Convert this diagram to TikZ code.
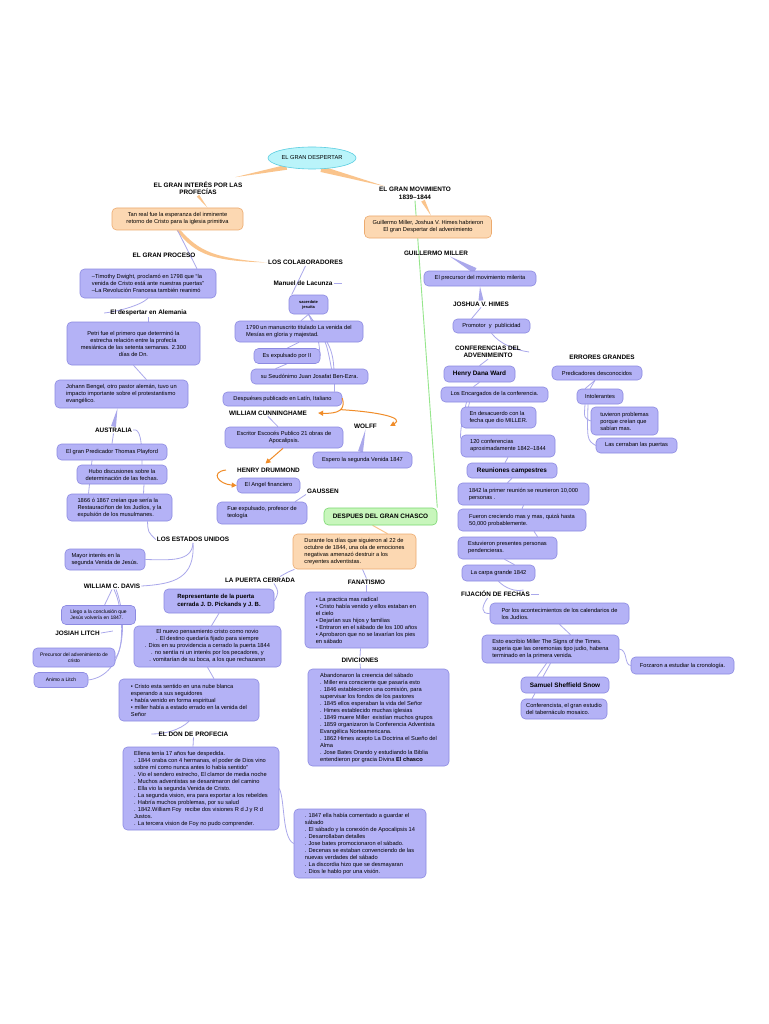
\documentclass[tikz,border=0pt]{standalone}
\usepackage{fontspec}
\setmainfont{Liberation Sans}
\usetikzlibrary{calc,arrows.meta,shapes.geometric}
\definecolor{pF}{RGB}{180,178,246}
\definecolor{pB}{RGB}{140,138,225}
\definecolor{oF}{RGB}{252,216,178}
\definecolor{oB}{RGB}{236,170,110}
\definecolor{gF}{RGB}{200,246,188}
\definecolor{gB}{RGB}{120,215,110}
\definecolor{cF}{RGB}{186,244,250}
\definecolor{cB}{RGB}{90,205,225}
\definecolor{lP}{RGB}{170,168,235}
\definecolor{lO}{RGB}{250,196,140}
\definecolor{aO}{RGB}{240,140,40}
\definecolor{lG}{RGB}{150,230,140}
\newcommand\fsn{\fontsize{5.7}{7}\selectfont}
\newcommand\fss{\fontsize{5}{6.2}\selectfont}
\newcommand\fsb{\fontsize{6.4}{7.4}\selectfont\bfseries}
\newcommand\fbb{\fontsize{6.4}{7.4}\selectfont\bfseries}
\newcommand\taper[4][lP]{\fill[#1] ($(#2)!#4!90:(#3)$) -- ($(#2)!#4!-90:(#3)$) -- (#3) -- cycle;}
\pgfdeclarelayer{bg}\pgfdeclarelayer{links}\pgfsetlayers{bg,links,main}
\tikzset{
 box/.style={draw=pB, fill=pF, rounded corners=4.5pt, line width=0.6pt, inner sep=1.5pt, font=\fsn},
 obox/.style={box, draw=oB, fill=oF},
 gbox/.style={box, draw=gB, fill=gF, font=\fbb},
 lab/.style={font=\fsb, align=center, inner sep=1pt},
 wh/.style 2 args={minimum width=#1pt, minimum height=#2pt},
 pl/.style={draw=lP, line width=0.8pt},
 ol/.style={draw=lO, line width=1pt},
 gl/.style={draw=lG, line width=0.9pt},
 oa/.style={draw=aO, line width=1pt, -{Triangle[length=5pt,width=5pt]}},
}
\begin{document}
\begin{tikzpicture}[x=1pt,y=-1pt]
\begin{pgfonlayer}{bg}
\fill[white] (0,0) rectangle (768,1024);
\end{pgfonlayer}
\useasboundingbox (0,0) rectangle (768,1024);

% ---------- top ----------
\node[ellipse, draw=cB, fill=cF, line width=0.6pt, wh={88}{22}, inner sep=0pt, font=\fsn] (despertar) at (312,158) {EL GRAN DESPERTAR};
\node[lab] (interes) at (198,188) {EL GRAN INTERÉS POR LAS\\PROFECÍAS};
\node[obox, wh={131}{22}, align=center] (tanreal) at (177.5,219) {Tan real fue la esperanza del inminente\\retorno de Cristo para la iglesia primitiva};
\node[lab] (proceso) at (164,255) {EL GRAN PROCESO};
\node[lab] (colab) at (305.5,262.5) {LOS COLABORADORES};

% ---------- left column ----------
\node[box, wh={136}{29}, align=left] (timothy) at (148,283.5) {–Timothy Dwight, proclamó en 1798 que “la\\venida de Cristo está ante nuestras puertas”\\–La Revolución Francesa también reanimó};
\node[lab] (alemania) at (148.5,313) {El despertar en Alemania};
\node[box, wh={133}{43}, align=center] (petri) at (133.5,343.5) {Petri fue el primero que determinó la\\estrecha relación entre la profecía\\mesiánica de las setenta semanas. 2.300\\días de Dn.};
\node[box, wh={133}{28}, align=left] (johann) at (121.5,394) {Johann Bengel, otro pastor alemán, tuvo un\\impacto importante sobre el protestantismo\\evangélico.};
\node[lab] (australia) at (113.5,430) {AUSTRALIA};
\node[box, wh={110}{16}] (playford) at (112,452) {El gran Predicador Thomas Playford};
\node[box, wh={90}{19}, align=center] (hubo) at (122,474.5) {Hubo discusiones sobre la\\determinación de las fechas.};
\node[box, wh={105}{27}, align=left] (r1866) at (119.5,507.5) {1866 ó 1867 creían que sería la\\Restauraciñon de los Judíos, y la\\expulsión de los musulmanes.};
\node[lab] (eeuu) at (193,539.5) {LOS ESTADOS UNIDOS};
\node[box, wh={80}{21}, align=left] (mayor) at (105,559.5) {Mayor interés en la\\segunda Venida de Jesús.};
\node[lab] (davis) at (112,586) {WILLIAM C. DAVIS};
\node[box, wh={74}{19}, align=left, font=\fss] (llego) at (98.5,615) {Llego a la conclusión que\\Jesús volvería en 1847.};
\node[lab] (litch) at (77.5,633) {JOSIAH LITCH};
\node[box, wh={82}{19}, align=center, font=\fss] (precursorL) at (74,657.5) {Precursor del advenimiento de\\cristo};
\node[box, wh={54}{15}, font=\fss] (animo) at (61,680) {Animo a Litch};

% ---------- Lacunza column ----------
\node[lab] (lacunza) at (303,283) {Manuel de Lacunza};
\node[box, wh={39}{19}, align=center, font=\fontsize{4}{5}\selectfont\bfseries] (sacerdote) at (308.5,304.5) {sacerdote\\jesuita};
\node[box, wh={128}{21}, align=left] (m1790) at (299,331.5) {1790 un manuscrito titulado La venida del\\Mesías en gloria y majestad.};
\node[box, wh={66}{15}] (expulsado) at (287,356) {Es expulsado por II};
\node[box, wh={117}{15}] (seudonimo) at (309.5,376.5) {su Seudónimo Juan Josafat Ben-Ezra.};
\node[box, wh={119}{14}] (despuespub) at (282.5,399) {Despuéses publicado en Latín, Italiano};
\node[lab] (cunning) at (268,413) {WILLIAM CUNNINGHAME};
\node[lab] (wolff) at (365.5,426) {WOLFF};
\node[box, wh={118}{21}, align=center] (escritor) at (284,437.5) {Escritor Escocés Publico 21 obras de\\Apocalipsis.};
\node[box, wh={99}{16}] (espero) at (362.5,460) {Espero la segunda Venida 1847};
\node[lab] (drummond) at (268.5,470) {HENRY DRUMMOND};
\node[box, wh={63}{15}] (angel) at (268.5,485.5) {El Angel financiero};
\node[lab] (gaussen) at (323,491) {GAUSSEN};
\node[box, wh={90}{22}, align=left] (fueexp) at (262,513) {Fue expulsado, profesor de\\teología};
\node[gbox, wh={113}{17}] (despchasco) at (380.5,516.5) {DESPUES DEL GRAN CHASCO};

% ---------- right column ----------
\node[lab] (movimiento) at (415,193.5) {EL GRAN MOVIMIENTO\\1839–1844};
\node[obox, wh={127}{22}, align=center] (guillermoBox) at (428,227) {Guillermo Miller, Joshua V. Himes habrieron\\El gran Despertar del advenimiento};
\node[lab] (guillermo) at (436,253) {GUILLERMO MILLER};
\node[box, wh={112}{15}] (precursorM) at (480,278.5) {El precursor del movimiento milerita};
\node[lab] (joshua) at (481,304) {JOSHUA V. HIMES};
\node[box, wh={77}{14}] (promotor) at (491.5,326) {Promotor\ \ y\ \ publicidad};
\node[lab] (conferencias) at (488,352) {CONFERENCIAS DEL\\ADVENIMEINTO};
\node[lab] (errores) at (602,357) {ERRORES GRANDES};
\node[box, wh={71}{16}, font=\fbb] (henry) at (479.5,374) {Henry Dana Ward};
\node[box, wh={107}{15}] (encargados) at (494.5,394.5) {Los Encargados de la conferencia.};
\node[box, wh={75}{21}, align=left] (desacuerdo) at (498.5,417.5) {En desacuerdo con la\\fecha que dio MILLER.};
\node[box, wh={94}{22}, align=left] (conf120) at (508,446) {120 conferencias\\aproximadamente 1842–1844};
\node[box, wh={90}{14}] (predicadores) at (597,373) {Predicadores desconocidos};
\node[box, wh={46}{15}] (intolerantes) at (600,396.5) {Intolerantes};
\node[box, wh={67}{28}, align=left] (tuvieron) at (624.5,421) {tuvieron problemas\\porque creían que\\sabían mas.};
\node[box, wh={81}{15}] (cerraban) at (636.5,445.5) {Las cerraban las puertas};
\node[box, wh={90}{15}, font=\fbb] (reuniones) at (512,470.5) {Reuniones campestres};
\node[box, wh={131}{22}, align=left] (r1842) at (523.5,494) {1842 la primer reunión se reunieron 10,000\\personas .};
\node[box, wh={128}{22}, align=left] (fueron) at (522,520) {Fueron creciendo mas y mas, quizá hasta\\50,000 probablemente.};
\node[box, wh={99}{22}, align=left] (estuvieron) at (507.5,548) {Estuvieron presentes personas\\pendencieras.};
\node[box, wh={73}{16}] (carpa) at (498.5,573) {La carpa grande 1842};
\node[lab] (fijacion) at (495.5,594) {FIJACIÓN DE FECHAS};
\node[box, wh={139}{21}, align=left] (porlos) at (559.5,613.5) {Por los acontecimientos de los calendarios de\\los Judíos.};
\node[box, wh={137}{28}, align=left] (esto) at (550.5,649) {Esto escribio Miller The Signs of the Times.\\sugeria que las ceremonias tipo judio, habena\\terminado en la primera venida.};
\node[box, wh={103}{17}] (forzaron) at (682.5,665.5) {Forzaron a estudiar la cronología.};
\node[box, wh={88}{16}, font=\fbb] (samuel) at (565,685) {Samuel Sheffield Snow};
\node[box, wh={86}{20}, align=left] (conferencista) at (564,709) {Conferencista, el gran estudio\\del tabernáculo mosaico.};

% ---------- centre bottom ----------
\node[obox, wh={123}{35}, align=left] (durante) at (354.5,551.5) {Durante los días que siguieron al 22 de\\octubre de 1844, una ola de emociones\\negativas amenazó destruir a los\\creyentes adventistas.};
\node[lab] (puerta) at (260,580) {LA PUERTA CERRADA};
\node[lab] (fanatismo) at (366.5,582) {FANATISMO};
\node[box, wh={110}{24}, align=left, font=\fontsize{6}{7.4}\selectfont\bfseries] (representante) at (219,601) {Representante de la puerta\\cerrada J. D. Pickands y J. B.};
\node[box, wh={123}{56}, align=left] (fanbox) at (366.5,620) {• La practica mas radical\\• Cristo había venido y ellos estaban en\\el cielo\\• Dejarían sus hijos y familias\\• Entraron en el sábado de los 100 años\\• Aprobaron que no se lavarían los pies\\en sábado};
\node[box, wh={147}{41}, align=center] (nuevo) at (207.5,646.5) {El nuevo pensamiento cristo como novio\\. El destino quedaría fijado para siempre\\. Dios en su providencia a cerrado la puerta 1844\\. no sentía ni un interés por los pecadores, y\\. vomitarían de su boca, a los que rechazaron};
\node[lab] (diviciones) at (360,660) {DIVICIONES};
\node[box, wh={141}{97}, align=left] (abandonaron) at (378.5,717.5) {Abandonaron la creencia del sábado\\. Miller era consciente que pasaría esto\\. 1846 establecieron una comisión, para\\supervisar los fondos de los pastores\\. 1845 ellos esperaban la vida del Señor\\. Himes establecido muchas iglesias\\. 1849 muere Miller\ \ existían muchos grupos\\. 1859 organizaron la Conferencia Adventista\\Evangélica Norteamericana.\\. 1862 Himes acepto La Doctrina el Sueño del\\Alma\\. Jose Bates Orando y estudiando la Biblia\\entendieron por gracia Divina \textbf{El chasco}};
\node[box, wh={140}{42}, align=left] (cristo) at (189,700) {• Cristo esta sentido en una nube blanca\\esperando a sus seguidores\\• había venido en forma espiritual\\• miller había a estado errado en la venida del\\Señor};
\node[lab] (don) at (193.5,734) {EL DON DE PROFECIA};
\node[box, wh={156}{83}, align=left] (ellena) at (201,788.5) {Ellena tenía 17 años fue despedida.\\. 1844 oraba con 4 hermanas, el poder de Dios vino\\sobre mí como nunca antes lo había sentido”\\. Vio el sendero estrecho, El clamor de media noche\\. Muchos adventistas se desanimaron del camino\\. Ella vio la segunda Venida de Cristo.\\. La segunda vision, era para exportar a los rebeldes\\. Habría muchos problemas, por su salud\\. 1842.William Foy\ \ recibe dos visiones R d J y R d\\Justos.\\. La tercera vision de Foy no pudo comprender.};
\node[box, wh={132}{69}, align=left] (s1847) at (360,843.5) {. 1847 ella había comentado a guardar el\\sábado\\. El sábado y la conexión de Apocalipsis 14\\. Desarrollaban detalles\\. Jose bates promocionaron el sábado.\\. Decenas se estaban convenciendo de las\\nuevas verdades del sábado\\. La discordia hizo que se desmayaran\\. Dios le hablo por una visión.};

% ---------- connectors ----------
\begin{pgfonlayer}{links}
% orange top
\coordinate (o1a) at (despertar.200);
\coordinate (o1b) at ([xshift=37pt,yshift=3pt]interes.north);
\taper[lO]{o1a}{o1b}{2.5pt}
\coordinate (o2a) at (despertar.-50);
\coordinate (o2b) at ([xshift=-30pt]movimiento.north);
\taper[lO]{o2a}{o2b}{3pt}
\coordinate (o3b) at ([xshift=30pt]tanreal.north);
\taper[lO]{interes.south}{o3b}{1.5pt}
\fill[lO] ([xshift=3pt]tanreal.south) .. controls (200,252) and (215,258) .. (colab.west) .. controls (215,261) and (196,256) .. ([xshift=-1pt]tanreal.south) -- cycle;
% left column
\draw[pl] (tanreal.south) -- ([xshift=49pt]timothy.north);
\draw[pl] (timothy.south) .. controls (140,306) and (115,312) .. ([xshift=-5pt]alemania.west);
\draw[pl] (alemania.south) -- ([xshift=15pt]petri.north);
\draw[pl] (petri.south) -- ([xshift=25pt]johann.north);
\coordinate (jt) at ([xshift=-4pt]johann.south);
\taper{australia.north}{jt}{2.5pt}
\draw[pl] (australia.south) -- (playford.north);
\draw[pl] (australia.east) .. controls (140,428) and (142,440) .. ([xshift=20pt]hubo.north);
\draw[pl] ([xshift=-20pt]playford.south) -- ([xshift=-31pt]r1866.north);
\draw[pl] ([xshift=22pt]hubo.south) -- ([xshift=24pt]r1866.north);
\draw[pl] ([xshift=28pt]r1866.south) .. controls (148,532) .. (eeuu.west);
\draw[pl] (eeuu.south) .. controls (192,562) and (170,560) .. (mayor.east);
\draw[pl] (eeuu.south) .. controls (195,578) and (175,584) .. (davis.east);
\draw[pl] (davis.south) -- ([xshift=6pt]llego.north);
\draw[pl] ([xshift=2pt]davis.south) .. controls (124,610) and (124,650) .. (precursorL.east);
\draw[pl] ([xshift=4pt]davis.south) .. controls (128,620) and (126,675) .. (animo.east);
\coordinate (litchend) at ([xshift=12pt,yshift=2pt]litch.east);
\draw[pl] (litch.east) -- (litchend);
% Lacunza
\draw[pl] (colab.south) -- ([xshift=3pt]sacerdote.north west);
\coordinate (lacend) at ([xshift=8pt]lacunza.east);
\draw[pl] (lacunza.east) -- (lacend);
\draw[pl] (sacerdote.south) -- ([xshift=2pt]m1790.north);
\draw[pl] (sacerdote.south) .. controls (318,335) .. (expulsado.east);
\draw[pl] (sacerdote.south) .. controls (326,340) .. ([xshift=22pt]seudonimo.north);
\draw[pl] (sacerdote.south) .. controls (334,350) .. ([xshift=52pt]despuespub.north);
\draw[pl] (m1790.south) -- (expulsado.north);
\draw[pl] (expulsado.south) -- ([xshift=-34pt]seudonimo.north);
\draw[pl] (cunning.south) -- ([xshift=-6pt]escritor.north);
\coordinate (eb) at ([xshift=-2pt]espero.north);
\taper{eb}{wolff.south}{2.5pt}
\draw[pl] (gaussen.south west) -- ([xshift=33pt]fueexp.north);
% right column
\draw[gl] (movimiento.south) -- (despchasco.north east);
\coordinate (mb) at ([xshift=8pt]movimiento.south);
\coordinate (gbt) at ([xshift=3pt]guillermoBox.north);
\taper[lO]{mb}{gbt}{2pt}
\coordinate (pmb) at ([xshift=-5pt]precursorM.north);
\coordinate (gmt) at ([xshift=14pt]guillermo.south);
\taper{pmb}{gmt}{3pt}
\taper{joshua.north}{precursorM.south}{2.5pt}
\draw[pl] (joshua.south) -- ([xshift=-20pt]promotor.north);
\draw[pl] (promotor.south) .. controls (500,344) and (515,350) .. ([xshift=7pt]conferencias.east);
\draw[pl] (conferencias.south) -- (henry.north);
\draw[pl] (henry.south) -- ([xshift=-21pt]encargados.north);
\draw[pl] ([xshift=-25pt]encargados.south) -- ([xshift=-30pt]desacuerdo.north);
\draw[pl] ([xshift=-28pt]encargados.south) .. controls (462,420) and (460,432) .. ([yshift=-4pt]conf120.north west);
\draw[pl] (conf120.south) -- ([xshift=-7pt]reuniones.north);
\draw[pl] (reuniones.south) -- ([xshift=-16pt]r1842.north);
\draw[pl] (r1842.south) -- (fueron.north);
\draw[pl] ([xshift=12pt]fueron.south) -- ([xshift=30pt]estuvieron.north);
\draw[pl] ([xshift=-3pt]estuvieron.south) -- ([xshift=16pt]carpa.north);
\draw[pl] (carpa.south) .. controls (505,588) and (515,592) .. ([xshift=28pt]fijacion.north);
\coordinate (fijend) at ([xshift=8pt]fijacion.east);
\draw[pl] (fijacion.east) -- (fijend);
\draw[pl] ([xshift=-8pt]fijacion.south) .. controls (482,606) and (480,614) .. (porlos.west);
\draw[pl] (porlos.south) -- ([xshift=20pt]esto.north);
\draw[pl] (esto.east) .. controls (628,650) and (624,665) .. (forzaron.west);
\draw[pl] (esto.south) -- ([xshift=-22pt]samuel.north);
\draw[pl] ([xshift=-4pt]esto.south) -- ([xshift=-28pt]samuel.north);
\draw[pl] ([xshift=-30pt]samuel.south) -- ([xshift=-32pt]conferencista.north);
\draw[pl] ([xshift=-2pt]predicadores.south) -- ([xshift=-15pt]intolerantes.north);
\draw[pl] ([xshift=-2pt]predicadores.south) -- ([xshift=-10pt]intolerantes.north);
\draw[pl] ([xshift=-15pt]intolerantes.south) .. controls (584,418) .. (tuvieron.west);
\draw[pl] ([xshift=-12pt]intolerantes.south) .. controls (587,440) .. (cerraban.west);
% centre
\draw[ol] ([xshift=-8pt]despchasco.south) -- ([xshift=33pt]durante.north);
\draw[pl] ([xshift=-60pt]durante.south) .. controls (288,572) .. ([xshift=20pt]puerta.north);
\draw[pl] ([xshift=8pt]durante.south) -- (fanatismo.north);
\draw[pl] (fanatismo.south) -- (fanbox.north);
\draw[pl] ([xshift=-6pt]fanbox.south) -- (diviciones.north);
\draw[pl] (diviciones.south) -- ([xshift=-18pt]abandonaron.north);
\draw[pl] ([xshift=14pt]puerta.south) .. controls (279,592) .. (representante.east);
\draw[pl] (representante.south) -- ([xshift=4pt]nuevo.north);
\draw[pl] (nuevo.south) -- ([xshift=25pt]cristo.north);
\draw[pl] (cristo.south) .. controls (180,730) and (165,734) .. ([xshift=-6pt]don.west);
\draw[pl] (don.south) -- ([xshift=-8pt]ellena.north);
\draw[pl] (ellena.east) .. controls (285,800) and (282,838) .. (s1847.west);
\end{pgfonlayer}
% orange arrows (on top)
\draw[oa] ([yshift=1pt]despuespub.east) .. controls (346,410) and (338,414) .. coordinate[pos=0.45] (wm) ([xshift=10pt]cunning.east);
\draw[oa] (wm) .. controls (380,412) and (405,418) .. ([xshift=12pt]wolff.east);
\draw[oa] ([xshift=-1pt]escritor.south) -- ([xshift=-3pt,yshift=3pt]drummond.north);
\draw[oa] ([xshift=-10pt]drummond.west) .. controls (210,472) and (218,484) .. (angel.west);
\end{tikzpicture}
\end{document}
